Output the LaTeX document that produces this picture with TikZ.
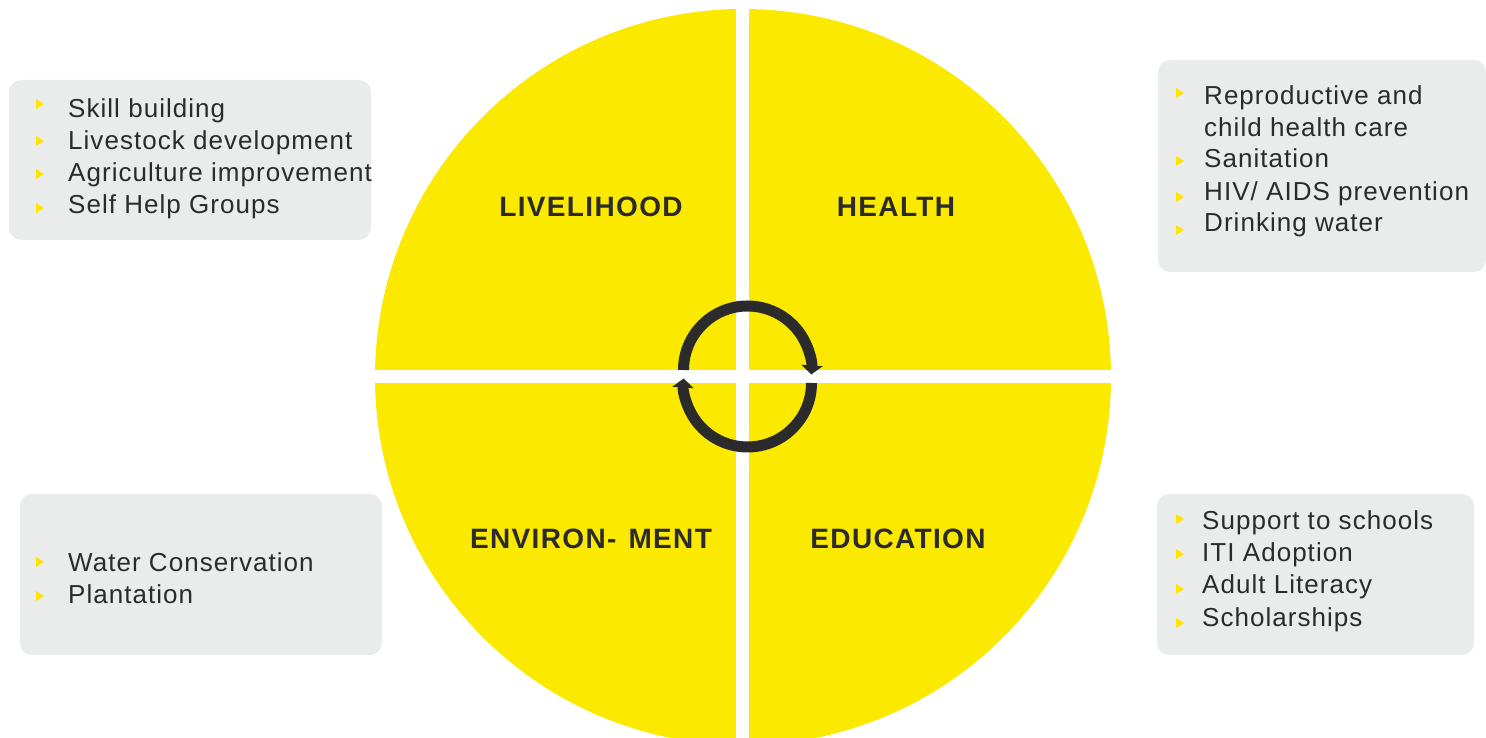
\documentclass[tikz,border=0pt]{standalone}
\usepackage{fontspec}
\setmainfont[LetterSpace=4]{Liberation Sans}
\newfontfamily\labelfont[LetterSpace=4.8]{Liberation Sans}
\usetikzlibrary{arrows.meta}
\definecolor{wheelyellow}{HTML}{FCE900}
\definecolor{bulletyellow}{HTML}{FFE400}
\definecolor{boxgray}{HTML}{EAEBEB}
\definecolor{inkdark}{HTML}{2B2B2B}
\tikzset{
  infobox/.style={fill=boxgray, rounded corners=12pt},
  item/.style={anchor=base west, inner sep=0pt, text=inkdark, font=\fontsize{26}{32}\selectfont},
  sector/.style={anchor=base, inner sep=0pt, text=inkdark, font=\labelfont\fontsize{28}{32}\selectfont\bfseries},
  cyclearrow/.style={draw=inkdark, line width=11pt, -{Triangle[width=21pt,length=9pt]}},
}
\newcommand{\bul}[2]{\fill[bulletyellow] (#1,#2) ++(0,5) -- ++(8,-5) -- ++(-8,-5) -- cycle;}
\begin{document}
\begin{tikzpicture}[x=1pt,y=1pt]
\useasboundingbox (0,0) rectangle (1486,738);
% wheel
\fill[wheelyellow] (743,361) circle[radius=368];
\fill[white] (736,-10) rectangle (749,748);
\fill[white] (360,355) rectangle (1130,368);
% cycle arrows
\draw[cyclearrow] (683.5,368) arc[start angle=180, end angle=-4, radius=64];
\draw[cyclearrow] (811.5,355) arc[start angle=0, end angle=-184, radius=64];
% sector labels
\node[sector] (livelihood) at (591,521) {LIVELIHOOD};
\node[sector] (health) at (896,521) {HEALTH};
\node[sector] (environment) at (591,189) {ENVIRON-\kern3pt{} MENT};
\node[sector] (education) at (898,189) {EDUCATION};
% boxes
\fill[infobox] (9,498) rectangle (371,658);
\fill[infobox] (1158,466) rectangle (1486,678);
\fill[infobox] (20,83) rectangle (382,244);
\fill[infobox] (1157,83) rectangle (1474,244);
% top left
\bul{36}{634}\bul{36}{597}\bul{36}{564}\bul{36}{530}
\node[item] (tl1) at (68,620) {Skill building};
\node[item] (tl2) at (68,588) {Livestock development};
\node[item] (tl3) at (68,556) {Agriculture improvement};
\node[item] (tl4) at (68,524) {Self Help Groups};
% top right
\bul{1176}{645}\bul{1176}{577}\bul{1176}{541}\bul{1176}{508}
\node[item] (tr1) at (1204,633) {Reproductive and};
\node[item] (tr2) at (1204,601) {child health care};
\node[item] (tr3) at (1204,570) {Sanitation};
\node[item] (tr4) at (1204,537) {HIV/ AIDS prevention};
\node[item] (tr5) at (1204,506) {Drinking water};
% bottom left
\bul{36}{176}\bul{36}{142}
\node[item] (bl1) at (68,166) {Water Conservation};
\node[item] (bl2) at (68,134) {Plantation};
% bottom right
\bul{1176}{219}\bul{1176}{184}\bul{1176}{149}\bul{1176}{115}
\node[item] (br1) at (1202,208) {Support to schools};
\node[item] (br2) at (1202,176) {ITI Adoption};
\node[item] (br3) at (1202,144) {Adult Literacy};
\node[item] (br4) at (1202,111) {Scholarships};
\end{tikzpicture}
\end{document}
